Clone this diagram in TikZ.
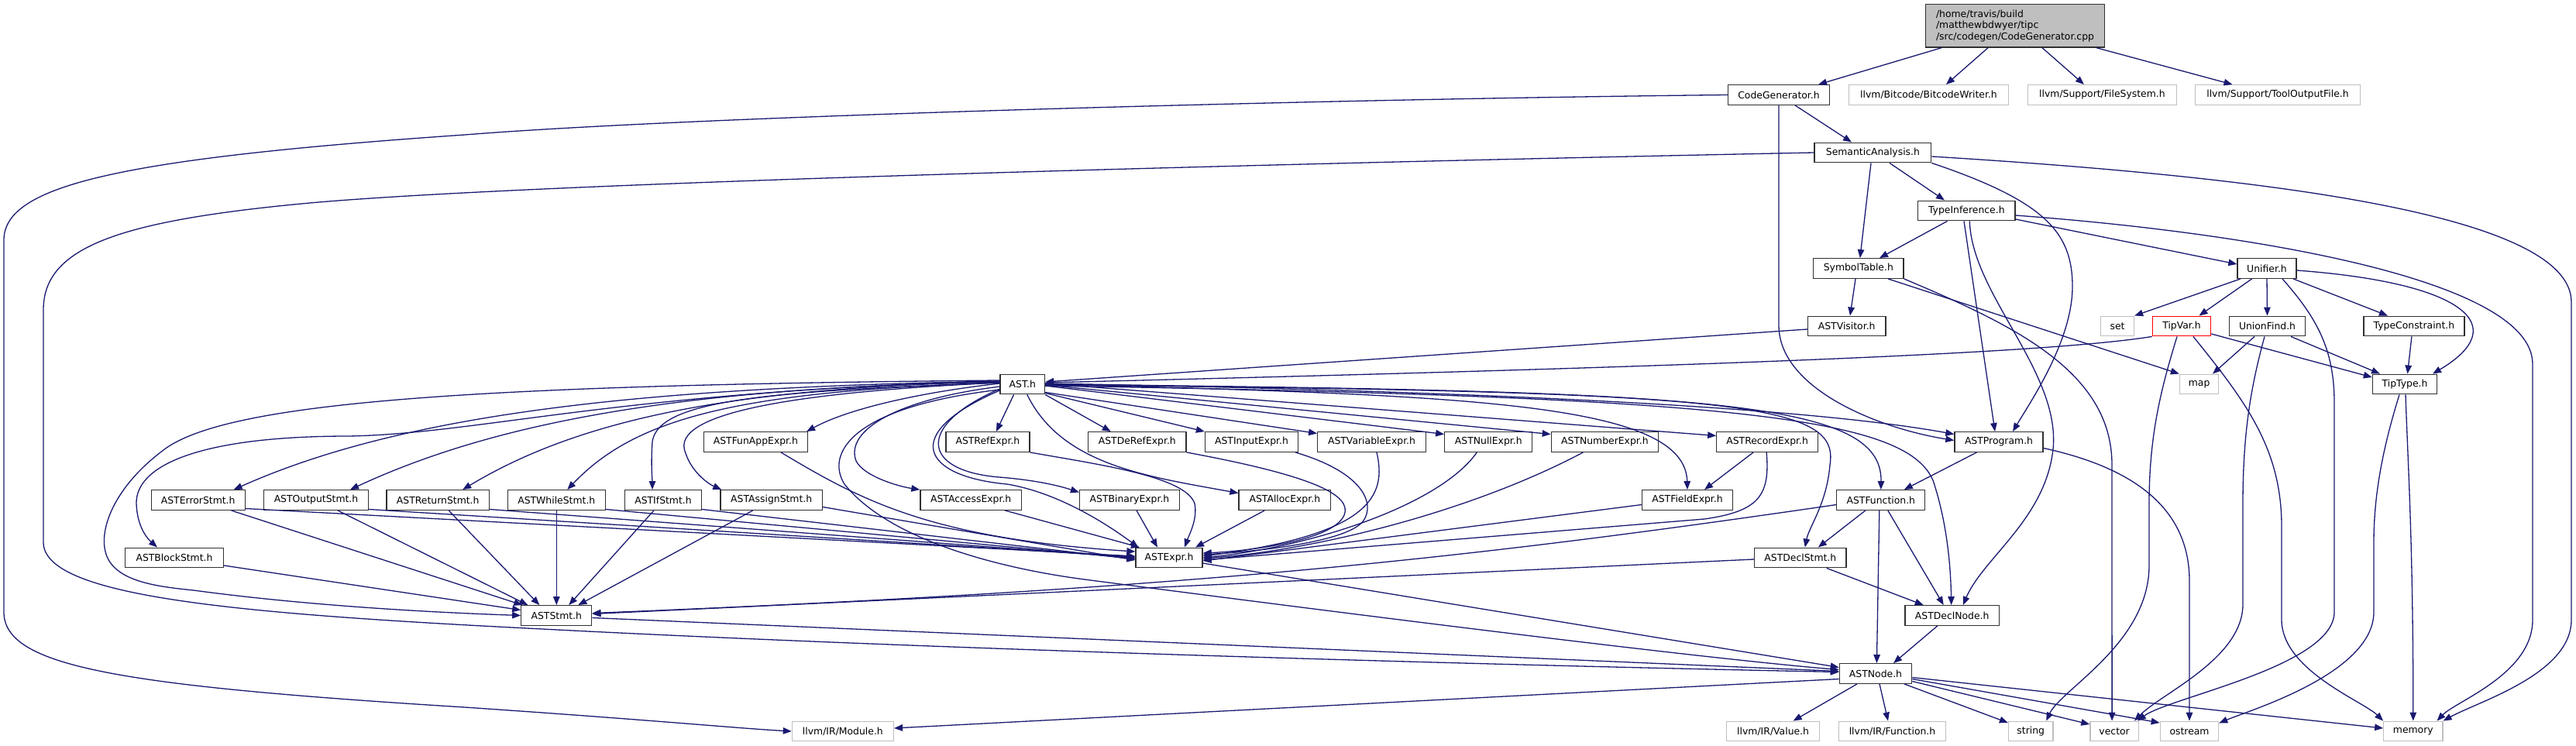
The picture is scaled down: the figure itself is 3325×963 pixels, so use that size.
\documentclass[tikz,border=0pt]{standalone}
\usepackage{fontspec}
\setmainfont{DejaVu Sans}
\usetikzlibrary{arrows.meta,calc}
\definecolor{edgec}{HTML}{191970}
\definecolor{extc}{HTML}{BFBFBF}
\definecolor{mainfill}{HTML}{BFBFBF}
\definecolor{boxc}{HTML}{303030}
\begin{document}
\begin{tikzpicture}[x=1pt,y=-1pt,
  box/.style={draw=boxc, line width=1.3pt, fill=white, minimum height=25.6pt, inner sep=0pt,
    font=\fontsize{12.4}{14.7}\selectfont, text=black},
  ext/.style={box, draw=extc},
  redbox/.style={box, draw=red},
  mainbox/.style={box, fill=mainfill, minimum height=55.3pt, align=left},
  wd/.style={minimum width=#1pt},
  edge/.style={draw=edgec, line width=1.3pt, -{Triangle[length=11pt,width=8.5pt]}}]
\useasboundingbox (0,0) rectangle (3325,963);
% ---------- nodes ----------
\node[mainbox, wd=231] (mainn) at (2601,33.4) {/home/travis/build\\/matthewbdwyer/tipc\\/src/codegen/CodeGenerator.cpp};
\node[box, wd=130.5] (cg) at (2296,122.5) {CodeGenerator.h};
\node[ext, wd=206] (bw) at (2489.5,122.5) {llvm/Bitcode/BitcodeWriter.h};
\node[ext, wd=191.5] (fs) at (2713.4,122.5) {llvm/Support/FileSystem.h};
\node[ext, wd=213] (tof) at (2940,122.5) {llvm/Support/ToolOutputFile.h};
\node[box, wd=150.7] (sa) at (2417.4,197) {SemanticAnalysis.h};
\node[box, wd=125.5] (ti) at (2538.3,272) {TypeInference.h};
\node[box, wd=116.3] (st) at (2398.8,346.5) {SymbolTable.h};
\node[box, wd=76] (un) at (2926,346.5) {Unifier.h};
\node[box, wd=100.4] (av) at (2383.7,421) {ASTVisitor.h};
\node[ext, wd=43] (hset) at (2733,421) {set};
\node[redbox, wd=75.3] (tv) at (2816,421) {TipVar.h};
\node[box, wd=98.3] (uf) at (2926.5,421) {UnionFind.h};
\node[box, wd=130] (tc) at (3115.9,421) {TypeConstraint.h};
\node[box, wd=57.5] (ast) at (1319.8,496) {AST.h};
\node[ext, wd=50.3] (hmap) at (2838.6,496) {map};
\node[box, wd=83.2] (tt) at (3104,496) {TipType.h};
% row 7
\node[box, wd=134] (fae) at (975.4,570.5) {ASTFunAppExpr.h};
\node[box, wd=108] (ref) at (1274.9,570.5) {ASTRefExpr.h};
\node[box, wd=126.3] (deref) at (1467.8,570.5) {ASTDeRefExpr.h};
\node[box, wd=120] (inp) at (1615.5,570.5) {ASTInputExpr.h};
\node[box, wd=139.6] (var) at (1770.5,570.5) {ASTVariableExpr.h};
\node[box, wd=113] (nullx) at (1921.3,570.5) {ASTNullExpr.h};
\node[box, wd=138.2] (num) at (2071.4,570.5) {ASTNumberExpr.h};
\node[box, wd=130.6] (rec) at (2281.1,570.5) {ASTRecordExpr.h};
\node[box, wd=114.1] (prog) at (2580,570.5) {ASTProgram.h};
% row 8
\node[box, wd=121] (err) at (255.7,645.5) {ASTErrorStmt.h};
\node[box, wd=134.7] (out) at (408,645.5) {ASTOutputStmt.h};
\node[box, wd=132.4] (ret) at (565.2,645.5) {ASTReturnStmt.h};
\node[box, wd=126.3] (whl) at (718.3,645.5) {ASTWhileStmt.h};
\node[box, wd=98.8] (ifs) at (856,645.5) {ASTIfStmt.h};
\node[box, wd=131.6] (asg) at (995.7,645.5) {ASTAssignStmt.h};
\node[box, wd=130.5] (acc) at (1253.2,645.5) {ASTAccessExpr.h};
\node[box, wd=129] (bin) at (1458,645.5) {ASTBinaryExpr.h};
\node[box, wd=118.5] (alloc) at (1658.3,645.5) {ASTAllocExpr.h};
\node[box, wd=117] (fld) at (2178,645.5) {ASTFieldExpr.h};
\node[box, wd=114] (fun) at (2427.8,645.5) {ASTFunction.h};
% row 9
\node[box, wd=127] (blk) at (225,720) {ASTBlockStmt.h};
\node[box, wd=86] (astexpr) at (1509,720) {ASTExpr.h};
\node[box, wd=118.4] (dstmt) at (2323.8,720) {ASTDeclStmt.h};
% row 10
\node[box, wd=91] (stmt) at (718.3,794.5) {ASTStmt.h};
\node[box, wd=121.3] (dnode) at (2519.7,794.5) {ASTDeclNode.h};
% row 11
\node[box, wd=93.3] (astnode) at (2421,869.5) {ASTNode.h};
% row 12
\node[ext, wd=131] (mod) at (1087.9,944) {llvm/IR/Module.h};
\node[ext, wd=119.8] (val) at (2288.6,944) {llvm/IR/Value.h};
\node[ext, wd=137.8] (func) at (2442.5,944) {llvm/IR/Function.h};
\node[ext, wd=57.4] (hstr) at (2621.2,944) {string};
\node[ext, wd=62.4] (hvec) at (2729.1,944) {vector};
\node[ext, wd=75.4] (host) at (2826,944) {ostream};
\node[ext, wd=76.1] (hmem) at (3114.8,944) {memory};
% ---------- edges ----------
% main
\draw[edge] ($(mainn.south)+(-95,0)$) -- ($(cg.north)+(51,0)$);
\draw[edge] ($(mainn.south)+(-35,0)$) -- ($(bw.north)+(22.5,0)$);
\draw[edge] ($(mainn.south)+(35,0)$) -- ($(fs.north)+(-23.4,0)$);
\draw[edge] ($(mainn.south)+(105,0)$) -- ($(tof.north)+(-58.5,0)$);
% CodeGenerator.h
\draw[edge] ($(cg.south)+(21,0)$) -- ($(sa.north)+(-27.4,0)$);
\draw[edge] (cg.south) -- (2296,420) .. controls (2296,500) and (2420,552) .. ($(prog.west)+(0,-2)$);
\draw[edge] (cg.west) .. controls (1700,128) and (900,150) .. (600,174) .. controls (150,205) and (5,240) .. (5,310) -- (5,790) .. controls (5,860) and (150,885) .. (600,913) .. controls (850,930) and (950,940) .. (mod.west);
% SemanticAnalysis.h
\draw[edge] ($(sa.south)+(-2.4,0)$) -- ($(st.north)+(2,0)$);
\draw[edge] ($(sa.south)+(21.6,0)$) -- ($(ti.north)+(-28.3,0)$);
\draw[edge] (sa.south east) .. controls (2640,260) and (2675,300) .. (2675,370) .. controls (2675,440) and (2620,520) .. ($(prog.north)+(18,0)$);
\draw[edge] ($(sa.east)+(0,5)$) .. controls (2950,230) and (3319,280) .. (3319,390) -- (3319,800) .. controls (3319,870) and (3200,905) .. (hmem.north east);
\draw[edge] (sa.west) .. controls (1700,210) and (700,235) .. (400,262) .. controls (150,285) and (56,320) .. (56,400) -- (56,700) .. controls (56,770) and (300,792) .. (700,812) .. controls (1200,838) and (1900,858) .. ($(astnode.west)+(0,-2)$);
% TypeInference.h
\draw[edge] ($(ti.south)+(-24.8,0)$) -- ($(st.north)+(27.2,0)$);
\draw[edge] ($(ti.east)+(0,11)$) -- ($(un.west)+(0,-5.5)$);
\draw[edge] ($(ti.south)+(-3.3,0)$) -- ($(prog.north)+(-5,0)$);
\draw[edge] ($(ti.south)+(4,0)$) .. controls (2545,380) and (2660,480) .. (2650,580) .. controls (2640,670) and (2560,720) .. ($(dnode.north)+(14,0)$);
\draw[edge] ($(ti.east)+(0,6)$) .. controls (2900,300) and (3269,360) .. (3269,470) -- (3269,800) .. controls (3269,870) and (3170,905) .. ($(hmem.north east)+(-8,0)$);
% SymbolTable.h
\draw[edge] ($(st.south)+(-3.8,0)$) -- ($(av.north)+(4.3,0)$);
\draw[edge] ($(st.south)+(38.2,0)$) -- (hmap.north west);
\draw[edge] (st.south east) .. controls (2600,420) and (2726,480) .. (2726,600) -- ($(hvec.north)+(-3,0)$);
% into AST.h
\draw[edge] ($(av.west)+(0,4)$) -- ($(ast.east)+(0,-3)$);
\draw[edge] (tv.south west) .. controls (2650,455) and (2250,472) .. ($(ast.east)+(0,-2)$);
% Unifier.h
\draw[edge] ($(un.south)+(-34,0)$) -- (hset.north east);
\draw[edge] ($(un.south)+(-19.4,0)$) -- ($(tv.north)+(22.5,0)$);
\draw[edge] (un.south) -- (uf.north);
\draw[edge] ($(un.south)+(34,0)$) -- ($(tc.north)+(-34,0)$);
\draw[edge] ($(un.east)+(0,2.5)$) .. controls (3180,365) and (3245,420) .. ($(tt.north)+(36,0)$);
\draw[edge] ($(un.south)+(20,0)$) .. controls (2990,410) and (3013,450) .. (3013,520) -- (3013,790) .. controls (3013,860) and (2800,900) .. ($(hvec.north east)+(-2,0)$);
% TipVar.h
\draw[edge] ($(tv.south)+(-6,0)$) .. controls (2790,500) and (2774,560) .. (2774,650) -- (2774,730) .. controls (2774,830) and (2660,890) .. ($(hstr.north)+(20,0)$);
\draw[edge] ($(tv.south)+(15,0)$) .. controls (2900,520) and (2945,580) .. (2945,680) -- (2945,800) .. controls (2945,865) and (3050,905) .. (hmem.north west);
\draw[edge] ($(tv.east)+(0,10)$) -- ($(tt.west)+(0,-9)$);
% UnionFind.h
\draw[edge] ($(uf.south)+(-16.5,0)$) -- ($(hmap.north)+(17.4,0)$);
\draw[edge] ($(uf.south)+(-3.5,0)$) .. controls (2905,500) and (2895,560) .. (2895,650) -- (2895,780) .. controls (2895,850) and (2790,895) .. ($(hvec.north east)+(-6,0)$);
\draw[edge] ($(uf.south)+(30.5,0)$) -- ($(tt.north)+(-32,0)$);
% TypeConstraint.h, TipType.h
\draw[edge] ($(tc.south)+(-3,0)$) -- ($(tt.north)+(3.5,0)$);
\draw[edge] ($(tt.south)+(-7,0)$) .. controls (3075,580) and (3064,640) .. (3064,700) -- (3064,790) .. controls (3064,870) and (2900,918) .. ($(host.north east)+(0,3)$);
\draw[edge] ($(tt.south)+(1,0)$) .. controls (3108,600) and (3114.8,700) .. (hmem.north);
% AST.h to the right
\draw[edge] ($(ast.east)+(0,-1)$) .. controls (1800,503) and (2300,520) .. ($(prog.west)+(0,-10)$);
\draw[edge] (ast.east) .. controls (2200,505) and (2430,515) .. (fun.north);
\draw[edge] ($(ast.east)+(0,1)$) .. controls (2250,505) and (2375,520) .. (2362,600) .. controls (2358,650) and (2335,680) .. ($(dstmt.north)+(6,0)$);
\draw[edge] ($(ast.east)+(0,2)$) .. controls (2250,512) and (2460,540) .. (2495,620) .. controls (2515,680) and (2518,740) .. ($(dnode.north)+(-1,0)$);
\draw[edge] ($(ast.east)+(0,-1)$) -- ($(rec.west)+(0,-8)$);
\draw[edge] (ast.east) .. controls (1900,510) and (2175,520) .. (fld.north);
\draw[edge] ($(ast.east)+(0,1)$) -- ($(num.west)+(0,-10)$);
\draw[edge] ($(ast.east)+(0,2)$) -- ($(nullx.west)+(0,-10)$);
\draw[edge] ($(ast.south east)+(0,-3)$) -- ($(var.west)+(0,-11)$);
\draw[edge] ($(ast.south east)+(0,-2)$) -- (inp.north west);
\draw[edge] (ast.south east) -- ($(deref.north)+(-34,0)$);
\draw[edge] ($(ast.south)+(-11.3,0)$) -- ($(ref.north)+(11,0)$);
\draw[edge] ($(ast.south)+(6,0)$) .. controls (1370,600) and (1480,615) .. ($(alloc.west)+(0,-9)$);
% AST.h to the left
\draw[edge] ($(ast.west)+(0,3)$) .. controls (1160,515) and (1090,555) .. (1105,595) .. controls (1115,615) and (1160,628) .. (acc.north west);
\draw[edge] ($(ast.west)+(0,6)$) .. controls (1180,550) and (1190,608) .. (1290,616) .. controls (1340,620) and (1370,628) .. ($(bin.west)+(0,-10)$);
\draw[edge] ($(ast.west)+(0,8)$) .. controls (1160,560) and (1190,615) .. (1300,625) .. controls (1360,635) and (1420,670) .. ($(astexpr.north west)+(4,0)$);
\draw[edge] ($(ast.west)+(0,-1)$) .. controls (1200,505) and (1100,525) .. ($(fae.north east)+(-2,0)$);
\draw[edge] ($(ast.west)+(0,-2)$) .. controls (1050,505) and (860,530) .. (885,585) .. controls (893,610) and (915,625) .. ($(asg.north west)+(2,0)$);
\draw[edge] ($(ast.west)+(0,-2)$) .. controls (1000,505) and (850,515) .. (842,570) .. controls (840,600) and (842,620) .. ($(ifs.north)+(-14,0)$);
\draw[edge] ($(ast.west)+(0,-2)$) .. controls (950,505) and (820,540) .. ($(whl.north)+(14,0)$);
\draw[edge] ($(ast.west)+(0,-3)$) .. controls (950,500) and (750,540) .. ($(ret.north)+(32,0)$);
\draw[edge] ($(ast.west)+(0,-3)$) .. controls (900,500) and (650,540) .. ($(out.north)+(44,0)$);
\draw[edge] ($(ast.west)+(0,-4)$) .. controls (850,500) and (530,530) .. ($(err.north)+(46,0)$);
\draw[edge] ($(ast.west)+(0,-4)$) .. controls (800,505) and (620,560) .. (450,563) .. controls (260,563) and (175,600) .. (176,650) .. controls (177,680) and (190,695) .. ($(blk.north)+(-22,0)$);
\draw[edge] ($(ast.west)+(0,-5)$) .. controls (600,497) and (300,520) .. (215,578) .. controls (150,625) and (128,680) .. (136,712) .. controls (145,750) and (200,757) .. (250,762) .. controls (420,785) and (600,792) .. (stmt.west);
\draw[edge] ($(ast.west)+(0,7)$) .. controls (1100,525) and (1065,585) .. (1090,625) .. controls (1150,700) and (1300,735) .. (1400,748) .. controls (1800,800) and (2200,850) .. ($(astnode.west)+(0,-5)$);
% statements
\draw[edge] ($(err.south)+(42.8,0)$) -- ($(stmt.north)+(-44,0)$);
\draw[edge] ($(err.east)+(0,11)$) -- ($(astexpr.west)+(0,-2)$);
\draw[edge] ($(out.south)+(28,0)$) -- ($(stmt.north)+(-37,0)$);
\draw[edge] ($(out.east)+(0,12)$) -- ($(astexpr.west)+(0,-1)$);
\draw[edge] ($(ret.south)+(14,0)$) -- ($(stmt.north)+(-22,0)$);
\draw[edge] ($(ret.east)+(0,12)$) -- (astexpr.west);
\draw[edge] (whl.south) -- (stmt.north);
\draw[edge] ($(whl.east)+(0,12)$) -- ($(astexpr.west)+(0,1)$);
\draw[edge] ($(ifs.south)+(-12,0)$) -- ($(stmt.north)+(16,0)$);
\draw[edge] ($(ifs.east)+(0,12)$) -- ($(astexpr.west)+(0,2)$);
\draw[edge] ($(asg.south)+(-24,0)$) -- ($(stmt.north)+(28,0)$);
\draw[edge] ($(asg.east)+(0,9)$) -- ($(astexpr.west)+(0,3)$);
\draw[edge] ($(blk.east)+(0,10)$) -- ($(stmt.west)+(0,-7)$);
% expressions
\draw[edge] ($(fae.south)+(32.6,0)$) .. controls (1110,645) and (1200,695) .. ($(astexpr.west)+(0,-8)$);
\draw[edge] ($(acc.south)+(44,0)$) -- ($(astexpr.north)+(-38,0)$);
\draw[edge] ($(bin.south)+(9,0)$) -- ($(astexpr.north)+(-15,0)$);
\draw[edge] ($(alloc.south)+(-26,0)$) -- ($(astexpr.north)+(34,0)$);
\draw[edge] (ref.south east) .. controls (1420,600) and (1530,615) .. (1542,650) .. controls (1546,670) and (1535,690) .. ($(astexpr.north)+(20,0)$);
\draw[edge] (deref.south east) .. controls (1700,615) and (1745,640) .. (1735,665) .. controls (1720,700) and (1600,712) .. ($(astexpr.east)+(0,-6)$);
\draw[edge] ($(inp.south)+(56.5,0)$) .. controls (1760,610) and (1775,650) .. (1760,672) .. controls (1740,700) and (1620,712) .. ($(astexpr.east)+(0,-4)$);
\draw[edge] ($(var.south)+(6.5,0)$) .. controls (1790,640) and (1770,690) .. ($(astexpr.east)+(0,-2)$);
\draw[edge] ($(nullx.south)+(-15,0)$) .. controls (1860,650) and (1700,705) .. (astexpr.east);
\draw[edge] ($(num.south)+(-28,0)$) .. controls (1900,660) and (1700,710) .. ($(astexpr.east)+(0,1)$);
\draw[edge] ($(rec.south)+(-18,0)$) -- ($(fld.north)+(22,0)$);
\draw[edge] ($(rec.south)+(-1,0)$) .. controls (2285,640) and (2270,660) .. (2200,670) -- ($(astexpr.east)+(0,3)$);
\draw[edge] ($(fld.west)+(0,6)$) -- ($(astexpr.east)+(0,4)$);
% declarations / functions
\draw[edge] ($(dstmt.west)+(0,2)$) -- ($(stmt.east)+(0,-2)$);
\draw[edge] ($(fun.west)+(0,6)$) .. controls (1900,720) and (1550,760) .. ($(stmt.east)+(0,-3)$);
\draw[edge] ($(dstmt.south)+(34,0)$) -- ($(dnode.north)+(-37,0)$);
\draw[edge] ($(fun.south)+(-20,0)$) -- ($(dstmt.north)+(23,0)$);
\draw[edge] ($(fun.south)+(9,0)$) -- ($(dnode.north)+(-11,0)$);
\draw[edge] ($(fun.south)+(-2,0)$) -- ($(astnode.north)+(1.4,0)$);
\draw[edge] ($(dnode.south)+(-19,0)$) -- ($(astnode.north)+(23,0)$);
\draw[edge] ($(prog.south)+(-28.5,0)$) -- ($(fun.north)+(30,0)$);
\draw[edge] ($(prog.east)+(0,8)$) .. controls (2760,605) and (2826,660) .. (2826,750) -- (host.north);
% into ASTNode.h
\draw[edge] ($(astexpr.east)+(0,7)$) -- ($(astnode.west)+(0,-8)$);
\draw[edge] ($(stmt.east)+(0,3)$) -- ($(astnode.west)+(0,-3)$);
% ASTNode.h out
\draw[edge] ($(astnode.west)+(0,7)$) -- ($(mod.east)+(0,-4)$);
\draw[edge] ($(astnode.south)+(-24,0)$) -- ($(val.north)+(26,0)$);
\draw[edge] ($(astnode.south)+(5,0)$) -- ($(func.north)+(-5.5,0)$);
\draw[edge] ($(astnode.south)+(37,0)$) -- ($(hstr.west)+(0,-11)$);
\draw[edge] ($(astnode.east)+(0,10)$) -- ($(hvec.west)+(0,-9)$);
\draw[edge] ($(astnode.east)+(0,7)$) -- ($(host.west)+(0,-11)$);
\draw[edge] ($(astnode.east)+(0,5)$) -- ($(hmem.west)+(0,-4)$);
\end{tikzpicture}
\end{document}
